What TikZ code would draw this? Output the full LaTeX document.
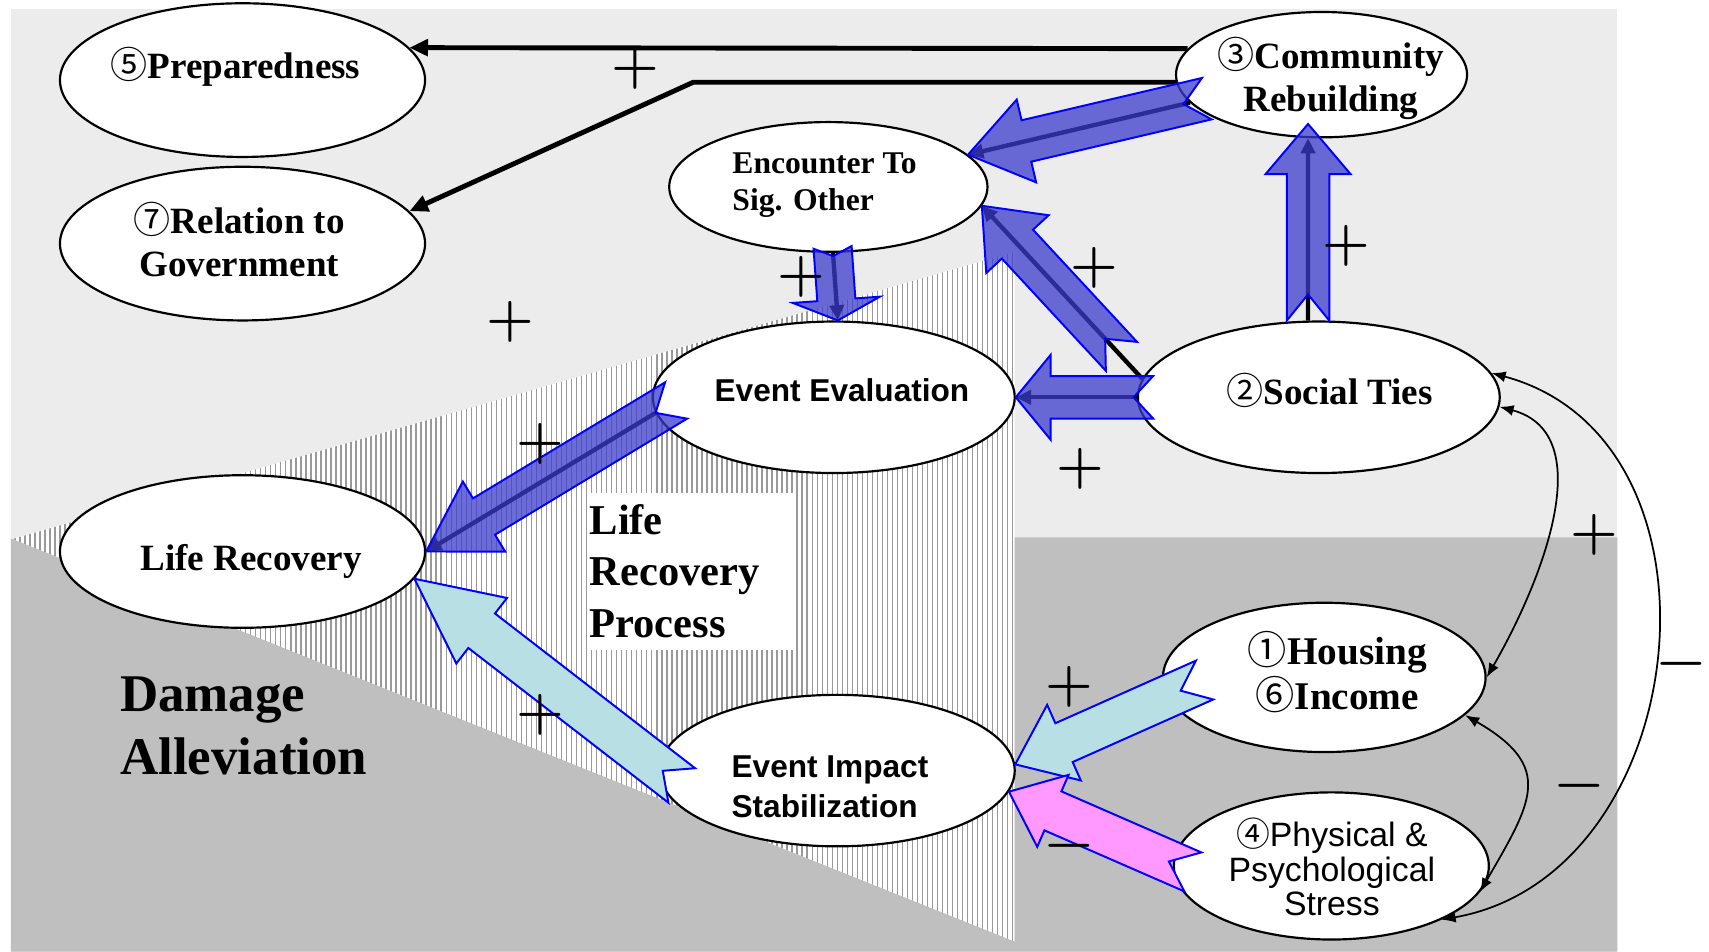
\documentclass[tikz,border=0pt]{standalone}
\usepackage{fontspec}
\usetikzlibrary{shapes.geometric,arrows.meta,calc,patterns.meta}
\newfontfamily\tnr{Liberation Serif}
\newfontfamily\ari{Liberation Sans}
\newfontfamily\cjk{Noto Sans CJK JP}
\definecolor{fatblue}{RGB}{60,60,205}
\definecolor{fatcyan}{RGB}{184,223,227}
\definecolor{fatpink}{RGB}{255,153,255}
\newcommand{\circnum}[1]{{\cjk\mdseries\smash{#1}}}
% text inside an ellipse: [align]{x shift}{raise}{lines}
\newcommand{\etxt}[4][c]{\makebox[0pt]{\hspace*{#2}\raisebox{#3}[0pt][0pt]{\begin{tabular}[t]{@{}#1@{}}#4\end{tabular}}\hspace*{-\dimexpr#2\relax}}}
% block arrow with notched tail
\tikzset{
  fat shaft/.store in=\fatS, fat head/.store in=\fatH, fat len/.store in=\fatL,
  fat notch/.store in=\fatN, fat back/.store in=\fatB, fat fwd/.store in=\fatF,
  fat shaft=19.5pt, fat head=39pt, fat len=50pt, fat notch=22pt, fat back=0pt, fat fwd=0pt
}
\newcommand{\fatarrow}[3][]{%
  \filldraw[draw=blue,line width=1.8pt,#1]
    ($(#2)!\fatB!(#3)!\fatS!90:(#3)$) -- ($(#2)!\fatB!(#3)!\fatN!(#3)$) --
    ($(#2)!\fatB!(#3)!\fatS!-90:(#3)$) --
    ($(#3)!\fatF!(#2)!\fatL!(#2)!\fatS!90:(#2)$) --
    ($(#3)!\fatF!(#2)!\fatL!(#2)!\fatH!90:(#2)$) --
    ($(#3)!\fatF!(#2)$) --
    ($(#3)!\fatF!(#2)!\fatL!(#2)!\fatH!-90:(#2)$) --
    ($(#3)!\fatF!(#2)!\fatL!(#2)!\fatS!-90:(#2)$) -- cycle;
}

\begin{document}
\begin{tikzpicture}[x=1pt,y=-1pt,
  ell/.style={ellipse,draw,fill=white,line width=2pt,inner sep=0pt},
  serif/.style={font=\tnr\bfseries\fontsize{34}{40}\selectfont},
  sans/.style={font=\ari\bfseries\fontsize{29}{36.6}\selectfont},
  bold line/.style={line width=4.5pt,-{Triangle[length=17pt,width=15pt]}},
  core/.style={line width=4pt,-{Triangle[length=14pt,width=13pt]}},
  blue fat/.style={fill=fatblue,fill opacity=0.75},
  cyan fat/.style={fill=fatcyan},
  pink fat/.style={fill=fatpink},
  feedback/.style={line width=1.6pt,{Latex[length=13pt,width=10pt]}-{Latex[length=13pt,width=10pt]}},
  pm/.style={inner sep=0pt,font=\bfseries\fontsize{50}{50}\selectfont}]
\useasboundingbox (0,0) rectangle (1568,873);
\fill[white] (0,0) rectangle (1568,873);
% background zones
\fill[gray!15] (10,8) rectangle (1484,873);
\fill[white] (10,495) -- (931,231) -- (931,864) -- cycle;
\fill[pattern={Lines[angle=90,distance=4.6pt,line width=1.3pt]},pattern color=black!40] (10,495) -- (931,231) -- (931,864) -- cycle;
\fill[gray!50] (10,494) -- (931,864) -- (931,493) -- (1484,493) -- (1484,873) -- (10,873) -- cycle;

% ellipses
\node[ell,serif,minimum width=335pt,minimum height=141pt] (prep) at (222.5,73.5) {\etxt{-6.5pt}{1.5pt}{\circnum{⑤}Preparedness}};
\node[ell,serif,minimum width=335pt,minimum height=141pt] (gov) at (222.5,223.5) {\etxt{-3pt}{9.5pt}{\circnum{⑦}Relation to\\Government}};
\node[ell,font=\tnr\bfseries\fontsize{29}{34}\selectfont,minimum width=292pt,minimum height=119pt] (enc) at (760,171.5) {\etxt[l]{-3.5pt}{12.5pt}{Encounter To\\Sig. Other}};
\node[ell,serif,minimum width=267pt,minimum height=115pt] (comm) at (1212.5,68.5) {\etxt{8.5pt}{5.8pt}{\circnum{③}Community\\Rebuilding}};
\node[ell,sans,minimum width=332pt,minimum height=139pt] (eval) at (765,364.5) {\etxt{7.5pt}{-4pt}{Event Evaluation}};
\node[ell,serif,minimum width=332pt,minimum height=139pt] (social) at (1210,364.5) {\etxt{10pt}{-7pt}{\circnum{②}Social Ties}};
\node[ell,serif,minimum width=335pt,minimum height=140pt] (life) at (222.5,506) {\etxt{7.7pt}{-17pt}{Life Recovery}};
\node[ell,sans,minimum width=326pt,minimum height=139pt] (impact) at (768,707) {\etxt[l]{-6.5pt}{-6pt}{Event Impact\\Stabilization}};
\node[ell,font=\tnr\bfseries\fontsize{36}{41}\selectfont,minimum width=296pt,minimum height=137pt] (housing) at (1215,621.5) {\etxt{12pt}{11.5pt}{\circnum{①}Housing\\\circnum{⑥}Income}};
\node[ell,font=\ari\fontsize{31}{31.5}\selectfont,minimum width=289pt,minimum height=135pt] (stress) at (1221.5,794.5) {\etxt{0.5pt}{17.7pt}{\circnum{④}Physical \&\\Psychological\\Stress}};

% zone titles
\node[fill=white,inner sep=0pt,minimum width=188pt,minimum height=144pt,text width=188pt,align=left,font=\tnr\bfseries\fontsize{39}{47.5}\selectfont] (lrp) at (635,524) {Life\\Recovery\\Process};
\node[anchor=west,inner sep=0pt,align=left,font=\tnr\bfseries\fontsize{48.6}{58}\selectfont] (dmg) at (110,666) {Damage\\Alleviation};

% long links from community rebuilding
\draw[bold line] (comm.169) -- (prep.11);
\draw[bold line] (comm.183) -- ++(-443,0) -- (gov.11);

% links under the blue arrows
\draw[core] (comm.192) -- (enc.13);
\draw[core] (enc.274) -- (eval.87);
\draw[core] (social.98) -- (comm.258);
\draw[core] (social.174) -- (enc.-7);
\draw[core] (social.180) -- (eval.0);
\draw[core] (eval.185) -- (life.0);

% block arrows
\fatarrow[blue fat,fat back=-16pt,fat len=55pt]{comm.192}{enc.13}
\fatarrow[blue fat,fat back=-5pt,fat len=19pt,fat shaft=17.5pt,fat head=40pt,fat notch=8pt]{enc.274}{eval.87}
\fatarrow[blue fat,fat fwd=-13pt,fat len=46pt,fat notch=24pt]{social.98}{comm.258}
\fatarrow[blue fat,fat back=28pt,fat len=48pt]{social.174}{enc.-7}
\fatarrow[blue fat,fat back=-15pt,fat len=32pt,fat notch=18pt]{social.180}{eval.0}
\fatarrow[blue fat,fat back=-22pt,fat len=62pt,fat head=37.5pt]{eval.185}{life.0}
\fatarrow[cyan fat,fat back=-27pt,fat len=78pt,fat shaft=20pt,fat head=38pt]{impact.179}{life.-9}
\fatarrow[cyan fat,fat back=-37.5pt,fat len=49pt,fat head=38pt,fat notch=24pt]{housing.187}{impact.2}
\fatarrow[pink fat,fat back=-20pt,fat len=44pt,fat head=36pt,fat notch=24pt]{stress.179}{impact.-7}

% two-way links on the right
\draw[feedback] (social.-3) to[out=-15,in=60] (housing.0);
\draw[feedback] (housing.-15) to[out=-30,in=60,looseness=1.5] (stress.-10);
\draw[feedback] (social.8) to[out=-15,in=10,looseness=1.2] (stress.-26);

% signs
\node[pm] (p1) at (583,63) {+};
\node[pm] (p2) at (468,295) {+};
\node[pm] (p3) at (735,254) {+};
\node[pm] (p4) at (1004,246) {+};
\node[pm] (p5) at (1235,226) {+};
\node[pm] (p6) at (496,407) {+};
\node[pm] (p7) at (991,430) {+};
\node[pm] (p8) at (496,656) {+};
\node[pm] (p9) at (1463,491) {+};
\node[pm] (p10) at (981,630) {+};
\node[pm] (m1) at (981,782) {−};
\node[pm] (m2) at (1449,727) {−};
\node[pm] (m3) at (1543,615) {−};
\end{tikzpicture}
\end{document}
